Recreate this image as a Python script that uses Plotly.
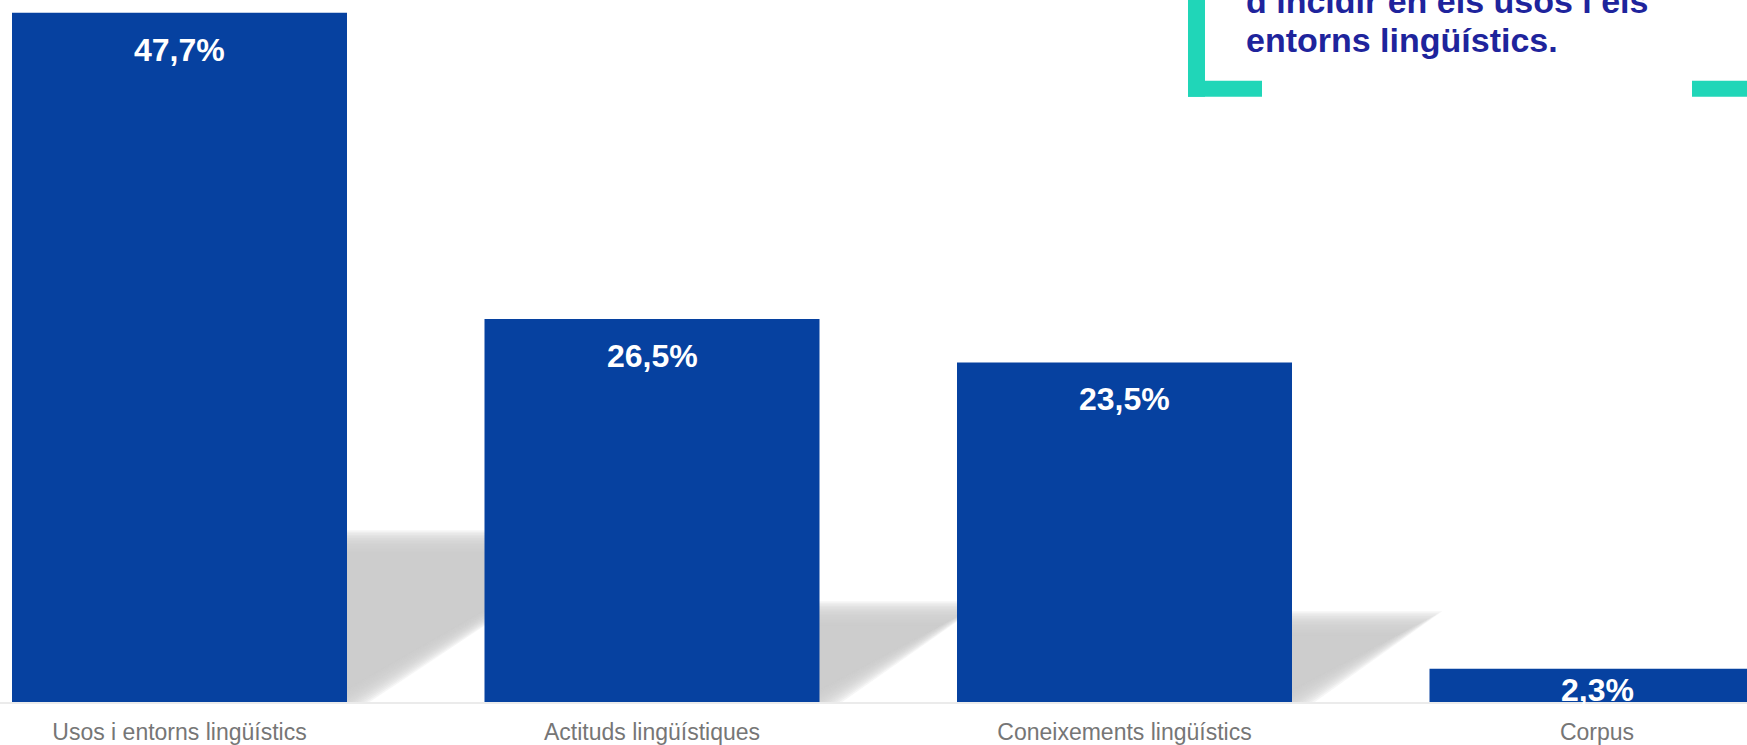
"""Bar chart: share of actions by linguistic area, with soft cast shadows."""

import plotly.graph_objects as go

CATEGORIES = [
    "Usos i entorns lingüístics",
    "Actituds lingüístiques",
    "Coneixements lingüístics",
    "Corpus",
]
VALUES = [47.7, 26.5, 23.5, 2.3]
VALUE_LABELS = ["47,7%", "26,5%", "23,5%", "2,3%"]
CALLOUT_LINES = ["d’incidir en els usos i els", "entorns lingüístics."]

BAR_COLOR = "#0641a0"
SHADOW_COLOR = "rgb(203,203,203)"
TEAL = "#20d6b8"
CALLOUT_COLOR = "#1e249c"
TICK_COLOR = "#767676"
FONT = "Liberation Sans, Arial, sans-serif"

W, H = 1747, 745
MARGIN_B = 41
PLOT_H = H - MARGIN_B

# axis scaling (pixels per category / per percentage point)
PX_PER_CAT = 472.5
FIRST_CAT_PX = 179.5
PX_PER_UNIT = 14.49
BAR_WIDTH = 0.709


def px_x(p):
    return p / W


def px_y(p):
    return (PLOT_H - p) / PLOT_H


def shadow_shapes(i, v):
    """Layered translucent parallelograms to fake a blurred cast shadow."""
    shapes = []
    xr = i + BAR_WIDTH / 2
    top = 0.232 * v
    reach_px = top * PX_PER_UNIT / 0.62
    steps = 16
    for n in range(steps):
        d = -12 + 24 * n / (steps - 1)
        t = top - d / PX_PER_UNIT
        dx = 1.9 * d / PX_PER_CAT
        tip = xr + reach_px / PX_PER_CAT - dx
        foot = xr - dx
        path = f"M {i},0 L {i},{t} L {tip},{t} L {foot},0 Z"
        shapes.append(
            dict(
                type="path",
                path=path,
                xref="x",
                yref="y",
                fillcolor=SHADOW_COLOR,
                opacity=0.18,
                line=dict(width=0),
                layer="below",
            )
        )
    return shapes


fig = go.Figure()
fig.add_trace(
    go.Bar(
        x=list(range(len(CATEGORIES))),
        y=VALUES,
        width=BAR_WIDTH,
        marker=dict(color=BAR_COLOR, line=dict(width=0)),
        hoverinfo="skip",
    )
)

shapes = []
for i, v in enumerate(VALUES):
    shapes += shadow_shapes(i, v)

# teal bracket round the callout (top-right)
for x0, y0, x1, y1 in [
    (1188, -20, 1205, 97),
    (1188, 81, 1262, 97),
    (1692, 81, 1770, 97),
]:
    shapes.append(
        dict(
            type="rect",
            xref="paper",
            yref="paper",
            x0=px_x(x0),
            x1=px_x(x1),
            y0=px_y(y1),
            y1=px_y(y0),
            fillcolor=TEAL,
            line=dict(width=0),
        )
    )

annotations = []
for i, (v, lab) in enumerate(zip(VALUES, VALUE_LABELS)):
    gap = 17 if v * PX_PER_UNIT > 80 else 1
    annotations.append(
        dict(
            x=i,
            y=v,
            xref="x",
            yref="y",
            text=lab,
            showarrow=False,
            yanchor="top",
            yshift=-gap,
            font=dict(family=FONT, size=32, color="white", weight="bold"),
        )
    )

for k, line in enumerate(CALLOUT_LINES):
    centre = 1 + 39 * k
    annotations.append(
        dict(
            x=px_x(1244),
            y=px_y(centre),
            xref="paper",
            yref="paper",
            text=line,
            showarrow=False,
            xanchor="left",
            yanchor="middle",
            font=dict(family=FONT, size=34, color=CALLOUT_COLOR, weight="bold"),
        )
    )

fig.update_layout(
    width=W,
    height=H,
    margin=dict(l=0, r=0, t=0, b=MARGIN_B, pad=0),
    plot_bgcolor="white",
    paper_bgcolor="white",
    showlegend=False,
    bargap=1 - BAR_WIDTH,
    shapes=shapes,
    annotations=annotations,
    xaxis=dict(
        range=[
            -FIRST_CAT_PX / PX_PER_CAT,
            (W - FIRST_CAT_PX) / PX_PER_CAT,
        ],
        tickmode="array",
        tickvals=list(range(len(CATEGORIES))),
        ticktext=CATEGORIES,
        tickfont=dict(family=FONT, size=23, color=TICK_COLOR),
        ticklabelstandoff=8,
        showgrid=False,
        zeroline=False,
        showline=True,
        linecolor="#ebebeb",
        linewidth=2,
        ticks="",
    ),
    yaxis=dict(
        range=[0, PLOT_H / PX_PER_UNIT],
        visible=False,
        showgrid=False,
        zeroline=False,
    ),
)

fig.write_html(
    "out.html",
    config={"displayModeBar": False},
    post_script="document.body.style.margin='0';document.body.style.overflow='hidden';",
)
